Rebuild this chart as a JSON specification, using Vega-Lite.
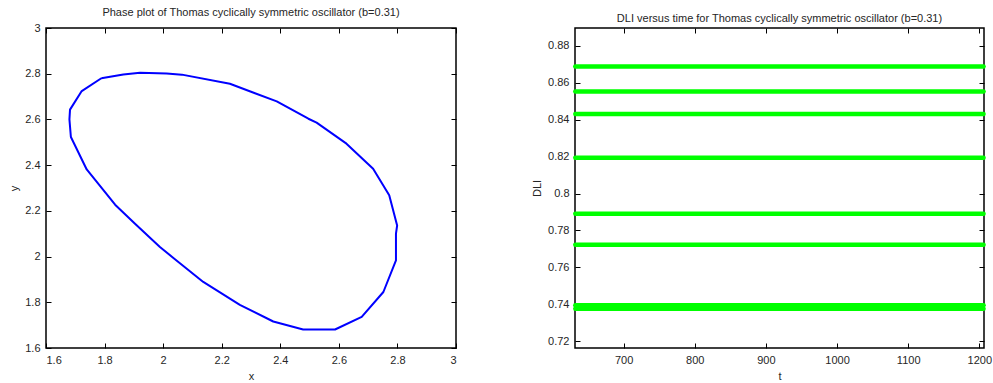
{
  "$schema": "https://vega.github.io/schema/vega-lite/v6.json",
  "padding": {"left": 7, "top": 6, "right": 0, "bottom": 0},
  "bounds": "flush",
  "spacing": 119,
  "background": "white",
  "datasets": {
    "phase": [
      {"i": 0, "x": 1.789, "y": 2.780},
      {"i": 1, "x": 1.722, "y": 2.724},
      {"i": 2, "x": 1.682, "y": 2.643},
      {"i": 3, "x": 1.680, "y": 2.600},
      {"i": 4, "x": 1.685, "y": 2.523},
      {"i": 5, "x": 1.739, "y": 2.381},
      {"i": 6, "x": 1.836, "y": 2.227},
      {"i": 7, "x": 1.904, "y": 2.144},
      {"i": 8, "x": 1.989, "y": 2.042},
      {"i": 9, "x": 2.035, "y": 1.994},
      {"i": 10, "x": 2.137, "y": 1.889},
      {"i": 11, "x": 2.262, "y": 1.789},
      {"i": 12, "x": 2.376, "y": 1.716},
      {"i": 13, "x": 2.478, "y": 1.681},
      {"i": 14, "x": 2.587, "y": 1.681},
      {"i": 15, "x": 2.678, "y": 1.736},
      {"i": 16, "x": 2.752, "y": 1.845},
      {"i": 17, "x": 2.795, "y": 1.983},
      {"i": 18, "x": 2.795, "y": 2.100},
      {"i": 19, "x": 2.799, "y": 2.136},
      {"i": 20, "x": 2.772, "y": 2.268},
      {"i": 21, "x": 2.717, "y": 2.384},
      {"i": 22, "x": 2.626, "y": 2.494},
      {"i": 23, "x": 2.524, "y": 2.586},
      {"i": 24, "x": 2.496, "y": 2.603},
      {"i": 25, "x": 2.388, "y": 2.679},
      {"i": 26, "x": 2.228, "y": 2.756},
      {"i": 27, "x": 2.064, "y": 2.796},
      {"i": 28, "x": 2.012, "y": 2.801},
      {"i": 29, "x": 1.921, "y": 2.804},
      {"i": 30, "x": 1.864, "y": 2.797},
      {"i": 31, "x": 1.789, "y": 2.780}
    ],
    "dli": [
      {"DLI": 0.8688, "t_start": 632, "t_end": 1206},
      {"DLI": 0.8552, "t_start": 632, "t_end": 1206},
      {"DLI": 0.8430, "t_start": 632, "t_end": 1206},
      {"DLI": 0.8194, "t_start": 632, "t_end": 1206},
      {"DLI": 0.7891, "t_start": 632, "t_end": 1206},
      {"DLI": 0.7723, "t_start": 632, "t_end": 1206},
      {"DLI": 0.7396, "t_start": 632, "t_end": 1206},
      {"DLI": 0.7376, "t_start": 632, "t_end": 1206}
    ]
  },
  "hconcat": [
    {
      "width": 410,
      "height": 320,
      "title": "Phase plot of Thomas cyclically symmetric oscillator (b=0.31)",
      "data": {"name": "phase"},
      "layer": [
        {
          "mark": {"type": "line", "color": "#0000ff", "strokeWidth": 2, "strokeJoin": "round"},
          "encoding": {
            "x": {"field": "x", "type": "quantitative",
                  "scale": {"domain": [1.6, 3], "nice": false, "zero": false},
                  "axis": {"values": [1.6, 1.8, 2, 2.2, 2.4, 2.6, 2.8, 3], "format": "~g", "title": "x"}},
            "y": {"field": "y", "type": "quantitative",
                  "scale": {"domain": [1.6, 3], "nice": false, "zero": false},
                  "axis": {"values": [1.6, 1.8, 2, 2.2, 2.4, 2.6, 2.8, 3], "format": "~g", "title": "y"}},
            "order": {"field": "i", "type": "quantitative"}
          }
        },
        {
          "mark": {"type": "point", "opacity": 0},
          "encoding": {
            "x": {"field": "x", "type": "quantitative",
                  "axis": {"orient": "top", "labels": false, "title": null, "values": [1.6, 1.8, 2, 2.2, 2.4, 2.6, 2.8, 3]}},
            "y": {"field": "y", "type": "quantitative",
                  "axis": {"orient": "right", "labels": false, "title": null, "values": [1.6, 1.8, 2, 2.2, 2.4, 2.6, 2.8, 3]}}
          }
        }
      ],
      "resolve": {"axis": {"x": "independent", "y": "independent"}}
    },
    {
      "width": 409,
      "height": 320,
      "title": "DLI versus time for Thomas cyclically symmetric oscillator (b=0.31)",
      "data": {"name": "dli"},
      "layer": [
        {
          "mark": {"type": "rule", "color": "#00ff00", "strokeWidth": 4.5, "strokeCap": "round"},
          "encoding": {
            "x": {"field": "t_start", "type": "quantitative",
                  "scale": {"domain": [631.6, 1206.6], "nice": false, "zero": false},
                  "axis": {"values": [700, 800, 900, 1000, 1100, 1200], "format": "d", "title": "t"}},
            "x2": {"field": "t_end"},
            "y": {"field": "DLI", "type": "quantitative",
                  "scale": {"domain": [0.7164, 0.8896], "nice": false, "zero": false},
                  "axis": {"values": [0.72, 0.74, 0.76, 0.78, 0.8, 0.82, 0.84, 0.86, 0.88], "format": "~g", "title": "DLI"}}
          }
        },
        {
          "mark": {"type": "point", "opacity": 0},
          "encoding": {
            "x": {"field": "t_start", "type": "quantitative",
                  "axis": {"orient": "top", "labels": false, "title": null, "values": [700, 800, 900, 1000, 1100, 1200]}},
            "y": {"field": "DLI", "type": "quantitative",
                  "axis": {"orient": "right", "labels": false, "title": null, "values": [0.72, 0.74, 0.76, 0.78, 0.8, 0.82, 0.84, 0.86, 0.88]}}
          }
        }
      ],
      "resolve": {"axis": {"x": "independent", "y": "independent"}}
    }
  ],
  "config": {
    "font": "Liberation Sans",
    "view": {"stroke": "#000000", "strokeWidth": 1.5},
    "axis": {
      "grid": false,
      "domain": false,
      "tickColor": "#000000",
      "tickWidth": 1,
      "tickSize": -5,
      "labelPadding": 11,
      "labelFont": "Liberation Sans",
      "labelFontSize": 11,
      "labelColor": "#262626",
      "titleFont": "Liberation Sans",
      "titleFontSize": 11,
      "titleFontWeight": "normal",
      "titleColor": "#262626"
    },
    "axisX": {"titlePadding": 5},
    "axisY": {"titlePadding": 5},
    "title": {"font": "Liberation Sans", "fontSize": 11, "fontWeight": "normal", "color": "#262626", "offset": 4}
  }
}
